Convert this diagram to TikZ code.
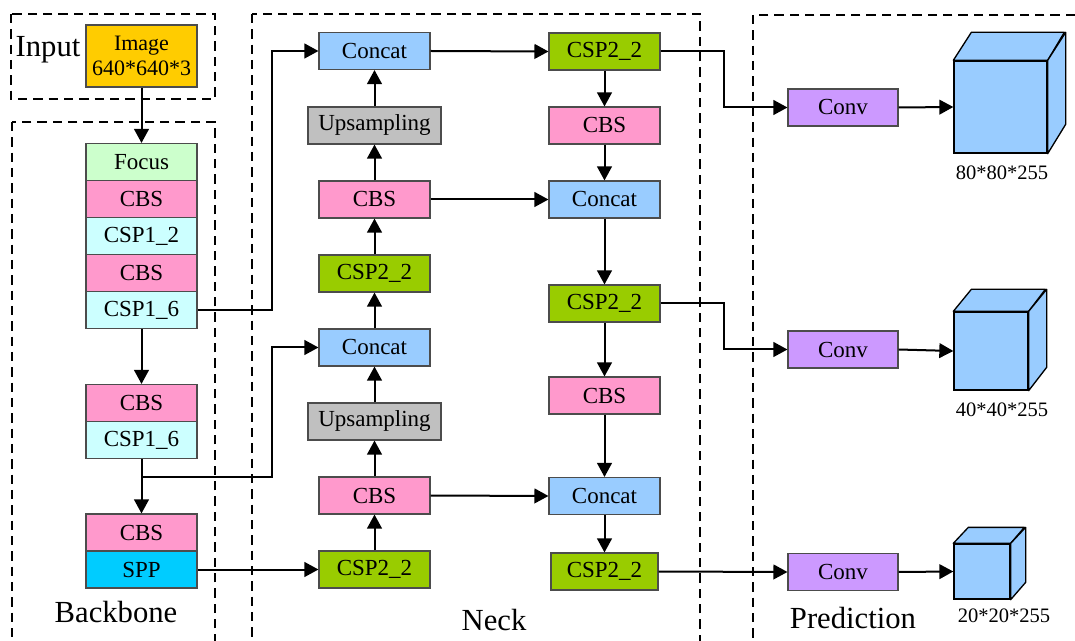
\documentclass[tikz,border=0pt]{standalone}
\usepackage{fontspec}
\setmainfont{Liberation Serif}
\newfontfamily\tms{Liberation Serif}
\usetikzlibrary{arrows.meta}
\definecolor{cFocus}{HTML}{CCFFCC}
\definecolor{cCBS}{HTML}{FF99CC}
\definecolor{cCSPa}{HTML}{CCFFFF}
\definecolor{cSPP}{HTML}{00CCFF}
\definecolor{cCat}{HTML}{99CCFF}
\definecolor{cUp}{HTML}{C0C0C0}
\definecolor{cCSPb}{HTML}{99CC00}
\definecolor{cConv}{HTML}{CC99FF}
\definecolor{cImg}{HTML}{FFCC00}
\definecolor{cCube}{HTML}{99CCFF}
\begin{document}
\begin{tikzpicture}[x=0.75pt,y=-0.75pt,
  blk/.style={draw=black!70, line width=0.8pt, minimum height=37*0.75pt, minimum width=111*0.75pt, inner sep=0pt, font=\tms\fontsize{17.25}{20}\selectfont},
  wide/.style={minimum width=133*0.75pt},
  dashbox/.style={draw=black, line width=1.3pt, dash pattern=on 7pt off 4.5pt},
  arr/.style={draw=black, line width=1.5pt, -{Triangle[length=10.5pt,width=11pt]}},
  big/.style={font=\tms\fontsize{23}{26}\selectfont, inner sep=0pt},
  dim/.style={font=\tms\fontsize{15.4}{18}\selectfont, inner sep=0pt},
  cubefront/.style={draw=black, line width=1pt, fill=cCube, inner sep=0pt},
  cubeface/.style={draw=black, line width=1pt, fill=cCube, line join=round}]
\path[use as bounding box, clip] (0,0) rectangle (1075,641);

% dashed group frames
\draw[dashbox] (11,14) rectangle (215,99);
\draw[dashbox] (12,122) rectangle (215,680);
\draw[dashbox] (252,14) rectangle (700,680);
\draw[dashbox] (753,15) rectangle (1100,680);

% group labels
\node[big] (lInput) at (48,50) {Input};
\node[big] (lBack) at (116,612) {Backbone};
\node[big] (lNeck) at (494,620) {Neck};
\node[big] (lPred) at (853,618) {Prediction};

% input
\node[blk, fill=cImg, minimum height=62*0.75pt, align=center, font=\tms\fontsize{16.5}{18.75}\selectfont] (img) at (141.5,56) {Image\\640*640*3};

% backbone
\node[blk, fill=cFocus] (focus) at (141.5,162) {Focus};
\node[blk, fill=cCBS] (b1) at (141.5,199) {CBS};
\node[blk, fill=cCSPa] (b2) at (141.5,236) {CSP1\_2};
\node[blk, fill=cCBS] (b3) at (141.5,273) {CBS};
\node[blk, fill=cCSPa] (b4) at (141.5,310) {CSP1\_6};
\node[blk, fill=cCBS] (b5) at (141.5,403) {CBS};
\node[blk, fill=cCSPa] (b6) at (141.5,440) {CSP1\_6};
\node[blk, fill=cCBS] (b7) at (141.5,532.5) {CBS};
\node[blk, fill=cSPP] (b8) at (141.5,569.5) {SPP};

% neck column 1
\node[blk, fill=cCat] (a1) at (374.5,51) {Concat};
\node[blk, fill=cUp, wide] (a2) at (374.5,125.5) {Upsampling};
\node[blk, fill=cCBS] (a3) at (374.5,199.5) {CBS};
\node[blk, fill=cCSPb] (a4) at (374.5,273.5) {CSP2\_2};
\node[blk, fill=cCat] (a5) at (374.5,347.5) {Concat};
\node[blk, fill=cUp, wide] (a6) at (374.5,421.5) {Upsampling};
\node[blk, fill=cCBS] (a7) at (374.5,495.5) {CBS};
\node[blk, fill=cCSPb] (a8) at (374.5,569.5) {CSP2\_2};

% neck column 2
\node[blk, fill=cCSPb] (d1) at (604.5,51.5) {CSP2\_2};
\node[blk, fill=cCBS] (d2) at (604.5,125.5) {CBS};
\node[blk, fill=cCat] (d3) at (604.5,199.5) {Concat};
\node[blk, fill=cCSPb] (d4) at (604.5,303.5) {CSP2\_2};
\node[blk, fill=cCBS] (d5) at (604.5,395.5) {CBS};
\node[blk, fill=cCat] (d6) at (604.5,496) {Concat};
\node[blk, fill=cCSPb, minimum width=107*0.75pt] (d7) at (604.5,571.5) {CSP2\_2};

% prediction
\node[blk, fill=cConv, minimum width=110*0.75pt] (c1) at (843,107.5) {Conv};
\node[blk, fill=cConv, minimum width=110*0.75pt] (c2) at (843,349.5) {Conv};
\node[blk, fill=cConv, minimum width=110*0.75pt] (c3) at (843,572) {Conv};

% cubes
\node[cubefront, minimum width=93*0.75pt, minimum height=92*0.75pt] (q1) at (1000.5,107) {};
\draw[cubeface] (q1.north west) -- ++(18,-28) -- ++(93,0) -- (q1.north east) -- cycle;
\draw[cubeface] (q1.north east) -- ++(18,-28) -- ++(0,92) -- (q1.south east) -- cycle;
\node[cubefront, minimum width=74*0.75pt, minimum height=78*0.75pt] (q2) at (991,351) {};
\draw[cubeface] (q2.north west) -- ++(18,-22) -- ++(74,0) -- (q2.north east) -- cycle;
\draw[cubeface] (q2.north east) -- ++(18,-22) -- ++(0,78) -- (q2.south east) -- cycle;
\node[cubefront, minimum width=56*0.75pt, minimum height=55*0.75pt] (q3) at (982,571.5) {};
\draw[cubeface] (q3.north west) -- ++(15,-16) -- ++(56,0) -- (q3.north east) -- cycle;
\draw[cubeface] (q3.north east) -- ++(15,-16) -- ++(0,55) -- (q3.south east) -- cycle;

\node[dim] (t1) at (1002,173) {80*80*255};
\node[dim] (t2) at (1002,410) {40*40*255};
\node[dim] (t3) at (1004,616) {20*20*255};

% helper coordinates
\coordinate (k1) at (272,0);
\coordinate (k2) at (724,0);
\coordinate (br) at (141.5,477.5);

% backbone connectors
\draw[arr] (img) -- (focus);
\draw[arr] (b4) -- (b5);
\draw[arr] (b6) -- (b7);
\draw[arr] (b4.east) -| (k1 |- a1.west) -- (a1.west);
\draw[arr] (br) -| (k1 |- a5.west) -- (a5.west);
\draw[arr] (b8.east) -- (a8.west);

% neck column 1 upward
\draw[arr] (a8) -- (a7);
\draw[arr] (a7) -- (a6);
\draw[arr] (a6) -- (a5);
\draw[arr] (a5) -- (a4);
\draw[arr] (a4) -- (a3);
\draw[arr] (a3) -- (a2);
\draw[arr] (a2) -- (a1);

% across
\draw[arr] (a1.east) -- (d1.west);
\draw[arr] (a3.east) -- (d3.west);
\draw[arr] (a7.east) -- (d6.west);

% neck column 2 downward
\draw[arr] (d1) -- (d2);
\draw[arr] (d2) -- (d3);
\draw[arr] (d3) -- (d4);
\draw[arr] (d4) -- (d5);
\draw[arr] (d5) -- (d6);
\draw[arr] (d6) -- (d7);

% to prediction
\draw[arr] (d1.east) -| (k2 |- c1.west) -- (c1.west);
\draw[arr] (d4.east) -| (k2 |- c2.west) -- (c2.west);
\draw[arr] (d7.east) -- (c3.west);
\draw[arr] (c1.east) -- (q1.west);
\draw[arr] (c2.east) -- (q2.west);
\draw[arr] (c3.east) -- (q3.west);
\end{tikzpicture}
\end{document}
